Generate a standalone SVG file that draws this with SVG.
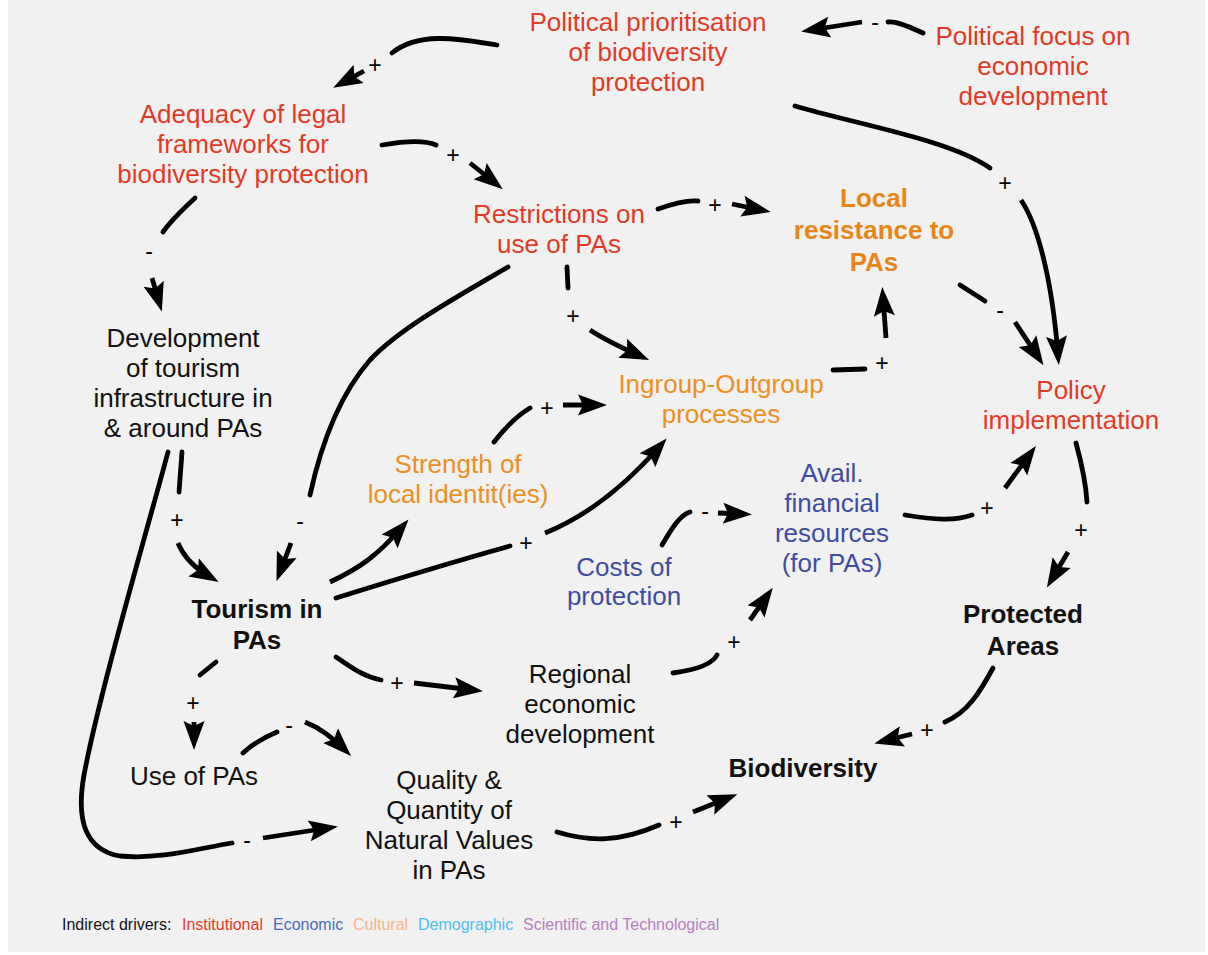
<svg xmlns="http://www.w3.org/2000/svg" width="1208" height="955" viewBox="0 0 1208 955">
<style>
text{font-family:"Liberation Sans",Arial,sans-serif;}
.n{font-size:26px;text-anchor:middle;}
.b{font-weight:bold;}
.red{fill:#e33a27;}
.org{fill:#ec8f24;}
.org2{fill:#e8861a;}
.blu{fill:#3f4ca0;}
.blk{fill:#111;}
.c{fill:none;stroke:#000;stroke-width:4.8;stroke-linecap:round;}
.a{stroke-linecap:butt;marker-end:url(#ah);}
.l{font-size:23px;text-anchor:middle;fill:#000;}
.lg{font-size:16px;}
</style>
<defs>
<marker id="ah" markerUnits="userSpaceOnUse" markerWidth="30" markerHeight="24" viewBox="0 0 30 24" refX="19" refY="12" orient="auto">
<path d="M0,1.5 L29,12 L0,22.5 L5,12 z" fill="#000"/>
</marker>
</defs>
<rect x="0" y="0" width="1208" height="955" fill="#fff"/>
<rect x="8" y="0" width="1197" height="952" fill="#f1f1f1"/>

<g id="connectors">
<!-- C1 political prioritisation -> adequacy -->
<path class="c" d="M497,45 C465,40 420,30 392,53"/>
<path class="c a" d="M364,71 L342,83"/>
<text class="l" x="375" y="73">+</text>
<!-- C2 political focus -> political prioritisation -->
<path class="c" d="M923,33 C905,25 895,21 888,22"/>
<path class="c a" d="M862,22 L811,30"/>
<text class="l" x="875" y="30">-</text>
<!-- C3 political prioritisation -> policy -->
<path class="c" d="M795,106 C860,125 950,140 990,168"/>
<path class="c a" d="M1021,200 C1038,225 1052,280 1058,355"/>
<text class="l" x="1005" y="191">+</text>
<!-- C4 adequacy -> restrictions -->
<path class="c" d="M382,145 C405,141 425,140 436,145"/>
<path class="c a" d="M470,163 L495,183"/>
<text class="l" x="453" y="163">+</text>
<!-- C5 adequacy -> development -->
<path class="c" d="M195,198 C182,210 170,222 163,232"/>
<path class="c a" d="M152,278 L159,302"/>
<text class="l" x="149" y="259">-</text>
<!-- C6 restrictions -> local resistance -->
<path class="c" d="M658,209 C672,204 688,200 698,201"/>
<path class="c a" d="M732,204 L761,210"/>
<text class="l" x="715" y="213">+</text>
<!-- C7 restrictions -> ingroup -->
<path class="c" d="M567,267 L568,288"/>
<path class="c a" d="M590,330 C605,340 620,347 640,356"/>
<text class="l" x="573" y="324">+</text>
<!-- C8 restrictions -> tourism -->
<path class="c" d="M508,267 C460,295 400,328 370,360 C342,392 322,440 310,495"/>
<path class="c a" d="M291,543 L280,572"/>
<text class="l" x="300" y="529">-</text>
<!-- C9 ingroup -> local resistance -->
<path class="c" d="M833,370 L865,369"/>
<path class="c a" d="M886,338 L883,297"/>
<text class="l" x="882" y="371">+</text>
<!-- C10 local resistance -> policy -->
<path class="c" d="M960,285 L985,301"/>
<path class="c a" d="M1015,322 L1038,357"/>
<text class="l" x="1000" y="318">-</text>
<!-- C11 development -> tourism -->
<path class="c" d="M182,452 L179,492"/>
<path class="c a" d="M178,543 C185,560 198,570 210,577"/>
<text class="l" x="177" y="528">+</text>
<!-- C12 development -> quality -->
<path class="c" d="M168,452 C150,520 100,690 84,775 C76,820 85,850 120,856 C160,860 200,848 232,843"/>
<path class="c a" d="M263,838 L328,828"/>
<text class="l" x="247" y="848">-</text>
<!-- C13 tourism -> strength -->
<path class="c a" d="M330,582 C360,568 378,555 402,527"/>
<!-- C14 strength -> ingroup -->
<path class="c" d="M494,442 C505,428 518,415 530,408"/>
<path class="c a" d="M563,405 L597,405"/>
<text class="l" x="547" y="416">+</text>
<!-- C15 tourism -> ingroup -->
<path class="c" d="M336,598 C400,578 460,560 510,546"/>
<path class="c a" d="M545,533 C590,515 630,480 660,446"/>
<text class="l" x="526" y="551">+</text>
<!-- C16 costs -> avail -->
<path class="c" d="M662,545 C672,528 680,515 690,512"/>
<path class="c a" d="M718,513 L742,514"/>
<text class="l" x="705" y="519">-</text>
<!-- C17 regional -> avail -->
<path class="c" d="M673,673 C695,670 712,665 717,655"/>
<path class="c a" d="M750,620 L767,596"/>
<text class="l" x="734" y="650">+</text>
<!-- C18 avail -> policy -->
<path class="c" d="M905,515 C935,520 955,521 972,515"/>
<path class="c a" d="M1005,488 L1030,454"/>
<text class="l" x="987" y="516">+</text>
<!-- C19 policy -> protected areas -->
<path class="c" d="M1076,443 C1082,465 1086,485 1087,502"/>
<path class="c a" d="M1068,552 L1052,579"/>
<text class="l" x="1081" y="538">+</text>
<!-- C20 protected areas -> biodiversity -->
<path class="c" d="M993,668 C980,692 968,712 945,722"/>
<path class="c a" d="M912,734 L884,741"/>
<text class="l" x="927" y="738">+</text>
<!-- C21 tourism -> regional -->
<path class="c" d="M336,657 C355,670 365,677 381,680"/>
<path class="c a" d="M414,683 L473,690"/>
<text class="l" x="397" y="691">+</text>
<!-- C22 tourism -> use of PAs -->
<path class="c" d="M216,662 L200,675"/>
<path class="c a" d="M194,722 L194,740"/>
<text class="l" x="193" y="711">+</text>
<!-- C23 use of PAs -> quality -->
<path class="c" d="M243,753 C255,742 265,737 277,732"/>
<path class="c a" d="M305,722 C320,728 333,738 344,749"/>
<text class="l" x="289" y="733">-</text>
<!-- C24 quality -> biodiversity -->
<path class="c" d="M557,832 C590,842 620,842 659,825"/>
<path class="c a" d="M693,812 L728,798"/>
<text class="l" x="676" y="830">+</text>
</g>

<g id="political-prioritisation"><text class="n red" x="648" y="31"><tspan x="648">Political prioritisation</tspan><tspan x="648" dy="30">of biodiversity</tspan><tspan x="648" dy="30">protection</tspan></text></g>
<g id="political-focus"><text class="n red" x="1033" y="45"><tspan x="1033">Political focus on</tspan><tspan x="1033" dy="30">economic</tspan><tspan x="1033" dy="30">development</tspan></text></g>
<g id="adequacy"><text class="n red" x="243" y="123"><tspan x="243">Adequacy of legal</tspan><tspan x="243" dy="30">frameworks for</tspan><tspan x="243" dy="30">biodiversity protection</tspan></text></g>
<g id="restrictions"><text class="n red" x="559" y="223"><tspan x="559">Restrictions on</tspan><tspan x="559" dy="30">use of PAs</tspan></text></g>
<g id="local-resistance"><text class="n b org2" x="874" y="207"><tspan x="874">Local</tspan><tspan x="874" dy="32">resistance to</tspan><tspan x="874" dy="32">PAs</tspan></text></g>
<g id="development-tourism"><text class="n blk" x="183" y="347"><tspan x="183">Development</tspan><tspan x="183" dy="30">of tourism</tspan><tspan x="183" dy="30">infrastructure in</tspan><tspan x="183" dy="30">&amp; around PAs</tspan></text></g>
<g id="ingroup"><text class="n org" x="721" y="393"><tspan x="721">Ingroup-Outgroup</tspan><tspan x="721" dy="30">processes</tspan></text></g>
<g id="policy"><text class="n red" x="1071" y="399"><tspan x="1071">Policy</tspan><tspan x="1071" dy="30">implementation</tspan></text></g>
<g id="strength"><text class="n org" x="458" y="473"><tspan x="458">Strength of</tspan><tspan x="458" dy="30">local identit(ies)</tspan></text></g>
<g id="avail-financial"><text class="n blu" x="832" y="482"><tspan x="832">Avail.</tspan><tspan x="832" dy="30">financial</tspan><tspan x="832" dy="30">resources</tspan><tspan x="832" dy="30">(for PAs)</tspan></text></g>
<g id="costs"><text class="n blu" x="624" y="576"><tspan x="624">Costs of</tspan><tspan x="624" dy="29">protection</tspan></text></g>
<g id="tourism"><text class="n b blk" x="257" y="618"><tspan x="257">Tourism in</tspan><tspan x="257" dy="31">PAs</tspan></text></g>
<g id="protected-areas"><text class="n b blk" x="1023" y="623"><tspan x="1023">Protected</tspan><tspan x="1023" dy="32">Areas</tspan></text></g>
<g id="regional"><text class="n blk" x="580" y="683"><tspan x="580">Regional</tspan><tspan x="580" dy="30">economic</tspan><tspan x="580" dy="30">development</tspan></text></g>
<g id="use-of-pas"><text class="n blk" x="194" y="785">Use of PAs</text></g>
<g id="quality"><text class="n blk" x="449" y="789"><tspan x="449">Quality &amp;</tspan><tspan x="449" dy="30">Quantity of</tspan><tspan x="449" dy="30">Natural Values</tspan><tspan x="449" dy="30">in PAs</tspan></text></g>
<g id="biodiversity"><text class="n b blk" x="803" y="777">Biodiversity</text></g>

<g id="legend" class="lg">
<text x="62" y="930" fill="#111" class="lg">Indirect drivers:</text>
<text x="182" y="930" fill="#e8392a" class="lg">Institutional</text>
<text x="273" y="930" fill="#4b6cb7" class="lg">Economic</text>
<text x="353" y="930" fill="#f7b48a" class="lg">Cultural</text>
<text x="418" y="930" fill="#4cc0ee" class="lg">Demographic</text>
<text x="523" y="930" fill="#b67fc0" class="lg">Scientific and Technological</text>
</g>
</svg>
